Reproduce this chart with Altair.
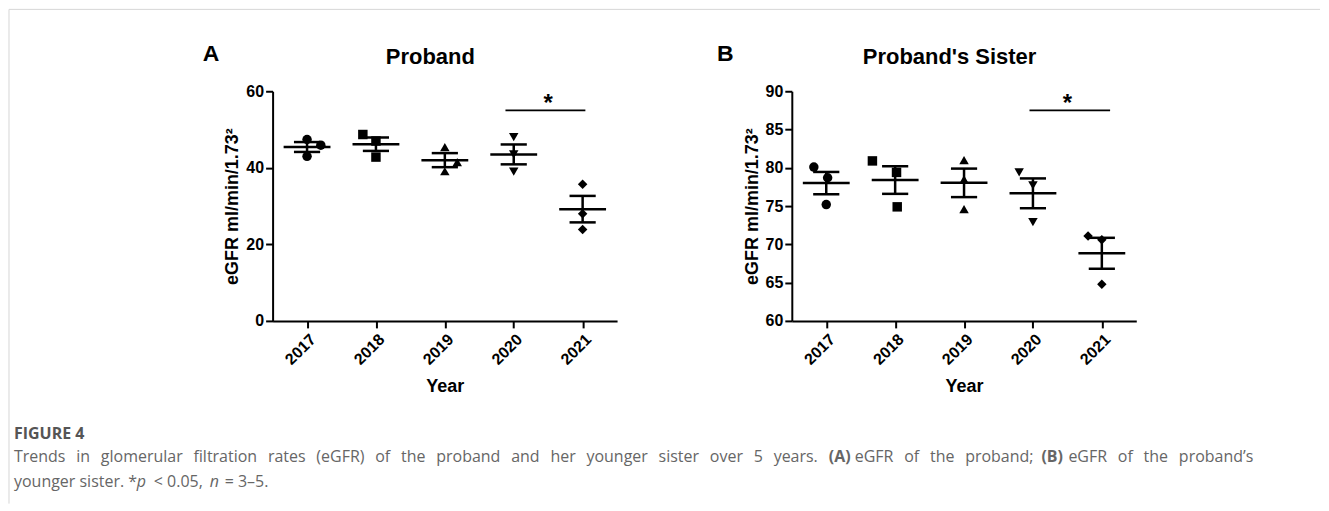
import altair as alt
import pandas as pd

# ---------------- data ----------------
years = [2017, 2018, 2019, 2020, 2021]
shapes = ["circle", "square", "triangle-up", "triangle-down", "diamond"]

proband_vals = [
    [47.4, 45.9, 43.0],
    [48.7, 47.0, 42.8],
    [45.4, 41.5, 39.1],
    [48.0, 43.5, 39.0],
    [35.7, 28.0, 23.9],
]
proband_jitter = [
    [0.0, 0.2, 0.0],
    [-0.19, 0.0, 0.0],
    [0.0, 0.18, 0.0],
    [0.0, 0.0, 0.0],
    [0.0, 0.0, 0.0],
]
sister_vals = [
    [80.1, 78.7, 75.2],
    [80.9, 79.4, 74.9],
    [81.0, 78.5, 74.6],
    [79.4, 77.7, 72.9],
    [71.1, 70.6, 64.8],
]
sister_jitter = [
    [-0.18, 0.02, 0.0],
    [-0.33, 0.02, 0.03],
    [0.0, 0.0, 0.0],
    [-0.2, 0.0, 0.0],
    [-0.2, 0.0, 0.0],
]
# significance bracket: from, to (year units), level
proband_sig = [2019.88, 2021.04, 55.0]
sister_sig = [2019.95, 2021.12, 87.5]

FONT = "Liberation Sans"
CAP_FONT = "Open Sans"
W, H = 345, 230
A_X0, A_Y0 = 272, 90  # page position of panel A plot origin
CAP = "#666666"
JSP = " \u2005\u2009"  # widened inter-word gap (justified caption line)


def make_df(vals, jit):
    rows = []
    for y, vs, js in zip(years, vals, jit):
        for v, j in zip(vs, js):
            rows.append({"year": y, "value": v, "xj": y + j})
    return pd.DataFrame(rows)


def text_layer(txt, x, y, size, weight="normal", style="normal", color="black",
               align="left", font=FONT, baseline="alphabetic"):
    return alt.Chart(pd.DataFrame({"t": [txt]})).mark_text(
        align=align, baseline=baseline, fontSize=size, fontWeight=weight,
        fontStyle=style, color=color, font=font
    ).encode(text="t:N", x=alt.value(x), y=alt.value(y))


def panel(vals, jit, ydom, yvals, title, letter, sig, extra=None):
    df = make_df(vals, jit)
    xs = alt.Scale(domain=[2016.5, 2021.5], nice=False, zero=False)
    ys = alt.Scale(domain=ydom, nice=False, zero=False)
    xax = alt.Axis(values=years, format="d", labelAngle=-45, title="Year",
                   titlePadding=10, labelPadding=3, grid=False)
    yax = alt.Axis(values=yvals, title="eGFR ml/min/1.73²", titlePadding=4, grid=False)
    base = alt.Chart(df)

    pts = base.mark_point(filled=True, size=90, opacity=1, color="black").encode(
        x=alt.X("xj:Q", scale=xs, axis=xax),
        y=alt.Y("value:Q", scale=ys, axis=yax),
        shape=alt.Shape("year:N", scale=alt.Scale(domain=years, range=shapes), legend=None),
    )

    agg = base.transform_aggregate(
        m="mean(value)", se="stderr(value)", groupby=["year"]
    ).transform_calculate(
        lo="datum.m - datum.se", hi="datum.m + datum.se",
        ml="datum.year - 0.34", mr="datum.year + 0.34",
        sl="datum.year - 0.19", sr="datum.year + 0.19",
    )
    rule = dict(color="black", strokeWidth=2.5)
    mean_l = agg.mark_rule(**rule).encode(
        x=alt.X("ml:Q", scale=xs, axis=xax), x2="mr:Q",
        y=alt.Y("m:Q", scale=ys, axis=yax))
    hi_l = agg.mark_rule(**rule).encode(
        x=alt.X("sl:Q", scale=xs, axis=xax), x2="sr:Q",
        y=alt.Y("hi:Q", scale=ys, axis=yax))
    lo_l = agg.mark_rule(**rule).encode(
        x=alt.X("sl:Q", scale=xs, axis=xax), x2="sr:Q",
        y=alt.Y("lo:Q", scale=ys, axis=yax))
    vert = agg.mark_rule(**rule).encode(
        x=alt.X("year:Q", scale=xs, axis=xax),
        y=alt.Y("lo:Q", scale=ys, axis=yax), y2="hi:Q")

    sdf = pd.DataFrame({"x1": [sig[0]], "x2": [sig[1]], "lvl": [sig[2]],
                        "mid": [(years[3] + years[4]) / 2], "star": ["*"]})
    sig_l = alt.Chart(sdf).mark_rule(color="black", strokeWidth=1.6).encode(
        x=alt.X("x1:Q", scale=xs, axis=xax), x2="x2:Q",
        y=alt.Y("lvl:Q", scale=ys, axis=yax))
    star = alt.Chart(sdf).mark_text(fontSize=24, fontWeight="bold", font=FONT,
                                    baseline="alphabetic", dy=1, color="black").encode(
        x=alt.X("mid:Q", scale=xs, axis=xax),
        y=alt.Y("lvl:Q", scale=ys, axis=yax), text="star:N")

    ttl = text_layer(title, 158, -27, 22, weight="bold", align="center")
    let = text_layer(letter[0], letter[1], -30, 23, weight="bold")

    layers = [pts, mean_l, hi_l, lo_l, vert, sig_l, star, ttl, let]
    if extra:
        layers += extra
    return alt.layer(*layers).properties(width=W, height=H)


# ---------- caption and frame (page coords converted to panel A coords) ----------
def pg(x, y):
    return x - A_X0, y - A_Y0


frame = []
fx, fy = pg(8, 8)
fx2, fy2 = pg(1321, 503)
frame.append(alt.Chart(pd.DataFrame({"a": [0]})).mark_rule(color="#d6d6d6", strokeWidth=1).encode(
    x=alt.value(fx), y=alt.value(fy), y2=alt.value(fy2)))
frame.append(alt.Chart(pd.DataFrame({"a": [0]})).mark_rule(color="#d6d6d6", strokeWidth=1).encode(
    x=alt.value(fx), x2=alt.value(fx2), y=alt.value(fy)))


def just(s):
    return s.replace(" ", JSP)


caption_segments = [
    ("FIGURE 4", 13, 438, "bold", "normal", "#555555"),
    (just("Trends in glomerular filtration rates (eGFR) of the proband and her younger sister over 5 years."),
     13, 461, "normal", "normal", CAP),
    ("(A)", 829, 461, "bold", "normal", CAP),
    (just("eGFR of the proband;"), 855, 461, "normal", "normal", CAP),
    ("(B)", 1042, 461, "bold", "normal", CAP),
    (just("eGFR of the proband\u2019s"), 1069, 461, "normal", "normal", CAP),
    ("younger sister. *", 13, 486, "normal", "normal", CAP),
    ("p", 136, 486, "normal", "italic", CAP),
    ("< 0.05,", 153, 486, "normal", "normal", CAP),
    ("n", 209, 486, "normal", "italic", CAP),
    ("= 3\u20135.", 224, 486, "normal", "normal", CAP),
]
caption = []
for txt, x, y, w, s, c in caption_segments:
    cx, cy = pg(x, y)
    caption.append(text_layer(txt, cx, cy, 16, weight=w, style=s, color=c, font=CAP_FONT))

panelA = panel(proband_vals, proband_jitter, [0, 60], [0, 20, 40, 60],
               "Proband", ("A", -70), proband_sig, extra=frame + caption)
panelB = panel(sister_vals, sister_jitter, [60, 90], [60, 65, 70, 75, 80, 85, 90],
               "Proband's Sister", ("B", -75), sister_sig)

chart = alt.hconcat(panelA, panelB, spacing=175, bounds="flush").properties(
    padding=0
).configure_view(stroke=None).configure_axis(
    grid=False, domainColor="black", domainWidth=2, tickColor="black", tickWidth=2,
    tickSize=7, labelFont=FONT, labelFontSize=16, labelFontWeight="bold",
    labelColor="black", labelPadding=2, titleFont=FONT, titleFontSize=18,
    titleFontWeight="bold", titleColor="black",
)

chart.save("out.html", embed_options={"renderer": "svg", "actions": False})
